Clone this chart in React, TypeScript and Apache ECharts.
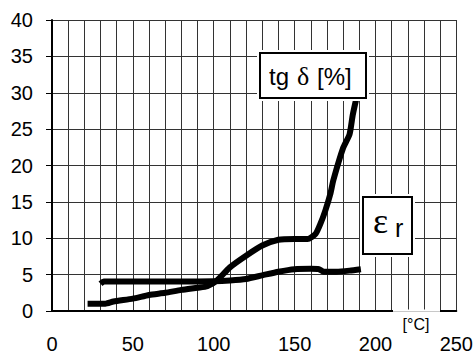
import React, { useEffect, useRef } from "react";
import * as echarts from "echarts";

// Temperature [°C] vs tg δ [%]
const tgDeltaX = [22, 33, 38, 50, 60, 70, 80, 90, 96, 102, 110, 120, 130, 140, 150, 158, 163, 166, 169, 172, 174, 180, 184, 186, 189];
const tgDeltaY = [1.0, 1.0, 1.3, 1.7, 2.2, 2.5, 2.9, 3.2, 3.4, 4.2, 6.0, 7.6, 9.0, 9.8, 9.9, 9.9, 10.6, 12.0, 13.8, 16.0, 18.0, 22.4, 24.3, 27.0, 30.0];

// Temperature [°C] vs ε r
const epsX = [30, 32, 40, 60, 80, 100, 110, 120, 130, 140, 150, 160, 165, 168, 176, 184, 191];
const epsY = [3.75, 4.05, 4.05, 4.05, 4.05, 4.1, 4.2, 4.4, 4.9, 5.4, 5.75, 5.8, 5.75, 5.4, 5.4, 5.55, 5.75];

const xTickLabels = [0, 50, 100, 150, 200, 250];
const yTickLabels = [0, 5, 10, 15, 20, 25, 30, 35, 40];

const SANS = "'Liberation Sans', Arial, sans-serif";
const SERIF = "'Liberation Serif', 'Times New Roman', serif";

export default function App() {
  const ref = useRef<HTMLDivElement>(null);

  useEffect(() => {
    if (!ref.current) return;
    const chart = echarts.init(ref.current, undefined, { renderer: "svg" });
    const tg = tgDeltaX.map((x, i) => [x, tgDeltaY[i]]);
    const eps = epsX.map((x, i) => [x, epsY[i]]);
    chart.setOption({
      animation: false,
      backgroundColor: "#ffffff",
      grid: { left: 52, top: 20, right: 19, bottom: 43 },
      xAxis: {
        type: "value",
        min: 0,
        max: 250,
        interval: 10,
        axisLine: { show: true, lineStyle: { color: "#000", width: 2 } },
        axisTick: { show: false },
        axisLabel: {
          margin: 23,
          fontSize: 20,
          fontFamily: SANS,
          color: "#000",
          formatter: (v: number) => (xTickLabels.includes(v) ? String(v) : ""),
        },
        splitLine: { show: true, lineStyle: { color: "#333", width: 1 } },
      },
      yAxis: {
        type: "value",
        min: 0,
        max: 40,
        interval: 5,
        axisLine: { show: true, lineStyle: { color: "#000", width: 2 } },
        axisTick: { show: true, length: 6, lineStyle: { color: "#000", width: 1 } },
        axisLabel: {
          margin: 19,
          fontSize: 20,
          fontFamily: SANS,
          color: "#000",
          formatter: (v: number) => (yTickLabels.includes(v) ? String(v) : ""),
        },
        splitLine: { show: true, lineStyle: { color: "#333", width: 1 } },
      },
      series: [
        {
          type: "line",
          data: tg,
          showSymbol: false,
          symbol: "none",
          smooth: 0.2,
          lineStyle: { color: "#000", width: 6, cap: "butt", join: "round" },
          z: 3,
        },
        {
          type: "line",
          data: eps,
          showSymbol: false,
          symbol: "none",
          smooth: 0.2,
          lineStyle: { color: "#000", width: 6, cap: "butt", join: "round" },
          z: 3,
        },
      ],
      graphic: [
        // tg δ box
        { type: "rect", z: 100, shape: { x: 257, y: 50, width: 112, height: 51 }, style: { fill: "#fff" } },
        { type: "rect", z: 101, shape: { x: 260, y: 53, width: 106, height: 45 }, style: { fill: "#fff", stroke: "#000", lineWidth: 2 } },
        { type: "text", z: 102, x: 269, y: 76, style: { text: "tg", font: `24px ${SANS}`, fill: "#000", verticalAlign: "middle", align: "left" } },
        { type: "text", z: 102, x: 297, y: 76, style: { text: "δ", font: `26px ${SERIF}`, fill: "#000", verticalAlign: "middle", align: "left" } },
        { type: "text", z: 102, x: 317, y: 76, style: { text: "[%]", font: `24px ${SANS}`, fill: "#000", verticalAlign: "middle", align: "left" } },
        // ε r box
        { type: "rect", z: 100, shape: { x: 360, y: 194, width: 55, height: 63 }, style: { fill: "#fff" } },
        { type: "rect", z: 101, shape: { x: 363, y: 197, width: 49, height: 57 }, style: { fill: "#fff", stroke: "#000", lineWidth: 2 } },
        { type: "text", z: 102, x: 373, y: 221, style: { text: "ε", font: `36px ${SERIF}`, fill: "#000", verticalAlign: "middle", align: "left" } },
        { type: "text", z: 102, x: 395, y: 228, style: { text: "r", font: `25px ${SANS}`, fill: "#000", verticalAlign: "middle", align: "left" } },
        // unit label over the axis
        { type: "rect", z: 100, shape: { x: 393, y: 309.5, width: 47, height: 4 }, style: { fill: "#fff" } },
        { type: "line", z: 101, shape: { x1: 393, y1: 311.5, x2: 440, y2: 311.5 }, style: { stroke: "#c8c8c8", lineWidth: 1 } },
        { type: "text", z: 102, x: 416, y: 324, style: { text: "[°C]", font: `16px ${SANS}`, fill: "#000", verticalAlign: "middle", align: "center" } },
      ],
    });
    return () => chart.dispose();
  }, []);

  return (
    <div
      ref={ref}
      style={{ position: "fixed", left: 0, top: 0, width: 476, height: 354, background: "#fff" }}
    />
  );
}
